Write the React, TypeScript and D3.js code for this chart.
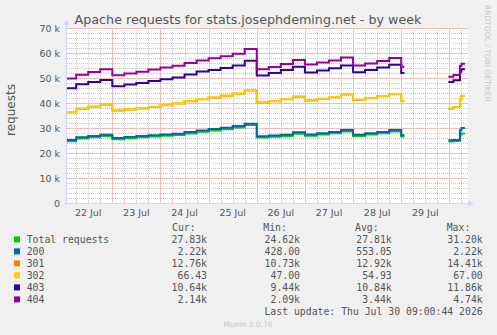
import React from "react";
import * as d3 from "d3";

// series keys, legend names and munin palette colours
const keys = ["total", "s200", "s301", "s302", "s403", "s404"];
const names = ["Total requests", "200", "301", "302", "403", "404"];
const colors = ["#00CC00", "#0066B3", "#FF8000", "#FFCC00", "#330099", "#990099"];

// sample times: hours after 22 Jul 00:00 (six-hourly, a gap, then the 30th)
const hours = [
  0, 6, 12, 18, 24, 30, 36, 42, 48, 54, 60, 66, 72, 78, 84, 90, 96, 102, 108,
  114, 120, 126, 132, 138, 144, 150, 156, 162, 168, 169.6, 170, 191.5, 194,
  197.25, 198, 199.75,
];

// requests per series at each sample (null = no data)
const total = [
  24700, 25800, 26300, 26800, 25500, 25900, 26300, 26600, 26900, 27200, 27800,
  28500, 29000, 29500, 30200, 31200, 26200, 26500, 26800, 27700, 26900, 27400,
  27900, 28600, 26800, 27400, 27900, 28600, 26600, 26600, null, 24650, 24800,
  27300, 27830, 27830,
];
const s200 = [
  550, 500, 500, 500, 500, 500, 500, 500, 500, 500, 600, 500, 600, 600, 600,
  500, 500, 500, 500, 600, 500, 500, 500, 600, 500, 500, 500, 600, 500, 500,
  null, 450, 430, 1800, 2220, 2220,
];
const s301 = [
  11100, 11450, 11750, 12050, 11050, 11050, 11050, 11350, 11750, 12150, 12350,
  12550, 12550, 12850, 12950, 13350, 13550, 13750, 14250, 14250, 13650, 13750,
  13950, 14250, 13950, 14050, 14350, 14350, 13650, 13650, null, 12650, 13150,
  12350, 12760, 12760,
];
const s302 = [
  52, 50, 55, 58, 48, 50, 53, 56, 55, 57, 60, 58, 54, 56, 59, 62, 50, 52, 55,
  57, 51, 53, 56, 58, 52, 54, 57, 60, 53, 53, null, 49, 51, 60, 66.43, 66.43,
];
const s403 = [
  9450, 9700, 9800, 9800, 9600, 9900, 10100, 10300, 10300, 10300, 10600, 11000,
  11000, 11000, 11200, 11800, 10700, 11200, 11600, 11850, 11100, 11300, 11500,
  11500, 11000, 11200, 11400, 11700, 11200, 11200, null, 10600, 10700, 11000,
  10640, 10640,
];
const s404 = [
  3900, 3800, 4000, 4300, 4400, 4400, 4500, 4600, 4700, 4700, 4600, 4400, 4700,
  4700, 4700, 4700, 2500, 2400, 2400, 2750, 3200, 3200, 3100, 3200, 2700, 2600,
  2600, 2700, 2500, 2500, null, 2100, 2100, 2300, 2140, 2140,
];

// legend statistics
const statMin = [24620, 428, 10730, 47, 9440, 2090];
const statAvg = [27810, 553.05, 12920, 54.93, 10840, 3440];
const statMax = [31200, 2220, 14410, 67, 11860, 4740];

const yTicks = [0, 10000, 20000, 30000, 40000, 50000, 60000, 70000];

const W = 497;
const H = 335;
const plot = { left: 67, right: 468, top: 28, bottom: 203 };
const mono = "DejaVu Sans Mono";
const sans = "DejaVu Sans";

const fmt = (v: number) =>
  v >= 1000 ? (v / 1000).toFixed(2) + "k" : v.toFixed(2);

type Row = { t: Date; ok: boolean; [k: string]: any };

export default function App() {
  const base = new Date(2026, 6, 22);
  const columns = [total, s200, s301, s302, s403, s404];

  const rows: Row[] = hours.map((h, i) => {
    const r: Row = {
      t: d3.timeMinute.offset(base, Math.round(h * 60)),
      ok: total[i] !== null,
    };
    keys.forEach((k, j) => (r[k] = columns[j][i] ?? 0));
    return r;
  });

  const series = d3.stack<Row>().keys(keys)(rows);

  const x = d3
    .scaleTime()
    .domain([new Date(2026, 6, 22, 1, 25), new Date(2026, 6, 30, 9, 17)])
    .range([plot.left, plot.right]);
  const y = d3
    .scaleLinear()
    .domain([0, 70000])
    .range([plot.bottom, plot.top]);

  const line = d3
    .line<d3.SeriesPoint<Row>>()
    .defined((d) => d.data.ok)
    .x((d) => x(d.data.t))
    .y((d) => y(d[1]))
    .curve(d3.curveStepAfter);

  const [t0, t1] = x.domain();
  const days = d3.timeDay.range(d3.timeDay.ceil(t0), t1);
  const sixHours = d3.timeHour
    .every(6)!
    .range(t0, t1)
    .filter((d) => d.getHours() !== 0);
  const minorY = d3.range(2000, 70000, 2000).filter((v) => v % 10000 !== 0);
  const labelDays = d3.timeDay
    .range(d3.timeDay.floor(t0), t1)
    .map((d) => d3.timeHour.offset(d, 12))
    .filter((d) => d < t1);

  const px = (v: number) => Math.round(v) + 0.5;
  const cur = columns.map((c) => c[c.length - 1] as number);
  const colRight = [207, 300, 391.7, 482.7];
  const headX = [172, 263.3, 355, 446.7];
  const heads = ["Cur:", "Min:", "Avg:", "Max:"];

  return (
    <svg
      width={W}
      height={H}
      style={{ position: "absolute", left: 0, top: 0, display: "block" }}
    >
      <defs>
        <clipPath id="plot-clip">
          <rect
            x={plot.left}
            y={plot.top - 2}
            width={plot.right - plot.left}
            height={plot.bottom - plot.top + 2}
          />
        </clipPath>
      </defs>
      <rect width={W} height={H} fill="#F0F0F0" />
      <rect
        x={plot.left}
        y={plot.top}
        width={plot.right - plot.left}
        height={plot.bottom - plot.top}
        fill="#FFFFFF"
      />

      <text
        x={248}
        y={24}
        textAnchor="middle"
        fontFamily={sans}
        fontSize={12.7}
        fill="#555"
      >
        Apache requests for stats.josephdeming.net - by week
      </text>

      {/* minor grid: grey dots every 2k and every 6 hours */}
      <g
        stroke="#c6c6c6"
        strokeWidth={1}
        strokeDasharray="1 1"
        shapeRendering="crispEdges"
      >
        {minorY.map((v) => (
          <line
            key={"my" + v}
            x1={plot.left}
            x2={plot.right}
            y1={px(y(v))}
            y2={px(y(v))}
          />
        ))}
        {sixHours.map((d) => (
          <line
            key={"mx" + +d}
            x1={px(x(d))}
            x2={px(x(d))}
            y1={plot.top}
            y2={plot.bottom}
          />
        ))}
      </g>
      {/* major grid: pale red every 10k and at midnight */}
      <g stroke="#f3bcbc" strokeWidth={1} shapeRendering="crispEdges">
        {yTicks.slice(1).map((v) => (
          <line
            key={"Mx" + v}
            x1={plot.left}
            x2={plot.right}
            y1={px(y(v))}
            y2={px(y(v))}
          />
        ))}
        {days.map((d) => (
          <line
            key={"My" + +d}
            x1={px(x(d))}
            x2={px(x(d))}
            y1={plot.top}
            y2={plot.bottom}
          />
        ))}
      </g>

      <g clipPath="url(#plot-clip)" fill="none" strokeWidth={2}>
        {series.map((s, i) => (
          <path key={s.key} d={line(s) || ""} stroke={colors[i]} />
        ))}
      </g>

      {/* axes with arrows */}
      <g fill="#CFD6F8" stroke="#CFD6F8">
        <line x1={66.5} x2={66.5} y1={plot.bottom + 3} y2={24} />
        <line x1={64} x2={469} y1={203.5} y2={203.5} />
        <path d="M63.5,25 L66.5,19 L69.5,25 Z" stroke="none" />
        <path d="M468,200.5 L474,203.5 L468,206.5 Z" stroke="none" />
      </g>

      {yTicks.map((v) => (
        <text
          key={"yt" + v}
          x={60}
          y={y(v) + 3.5}
          textAnchor="end"
          fontFamily={sans}
          fontSize={9.5}
          fill="#555"
        >
          {v === 0 ? "0" : `${v / 1000} k`}
        </text>
      ))}
      {labelDays.map((d) => (
        <text
          key={"xt" + +d}
          x={x(d)}
          y={216}
          textAnchor="middle"
          fontFamily={sans}
          fontSize={9.5}
          fill="#555"
        >
          {d3.timeFormat("%d %b")(d)}
        </text>
      ))}

      <text
        transform="translate(15,110) rotate(-90)"
        textAnchor="middle"
        fontFamily={sans}
        fontSize={12}
        fill="#555"
      >
        requests
      </text>
      <text
        transform="translate(485,5) rotate(90)"
        fontFamily={sans}
        fontSize={7.5}
        fill="#c8c8c8"
      >
        RRDTOOL / TOBI OETIKER
      </text>

      {/* legend */}
      <g fontFamily={mono} fontSize={9.8} fill="#555">
        {heads.map((h, i) => (
          <text key={h} x={headX[i]} y={231}>
            {h}
          </text>
        ))}
        {names.map((n, i) => {
          const by = 243 + 12 * i;
          const vals = [cur[i], statMin[i], statAvg[i], statMax[i]];
          return (
            <g key={n}>
              <rect x={14} y={by - 6.6} width={6} height={6} fill={colors[i]} />
              <text x={26.7} y={by}>
                {n}
              </text>
              {vals.map((v, j) => (
                <text key={j} x={colRight[j]} y={by} textAnchor="end">
                  {fmt(v)}
                </text>
              ))}
            </g>
          );
        })}
        <text x={482.7} y={315} textAnchor="end">
          Last update: Thu Jul 30 09:00:44 2026
        </text>
      </g>
      <text
        x={248}
        y={327}
        textAnchor="middle"
        fontFamily={sans}
        fontSize={7.5}
        fill="#c8c8c8"
      >
        Munin 2.0.76
      </text>
    </svg>
  );
}
